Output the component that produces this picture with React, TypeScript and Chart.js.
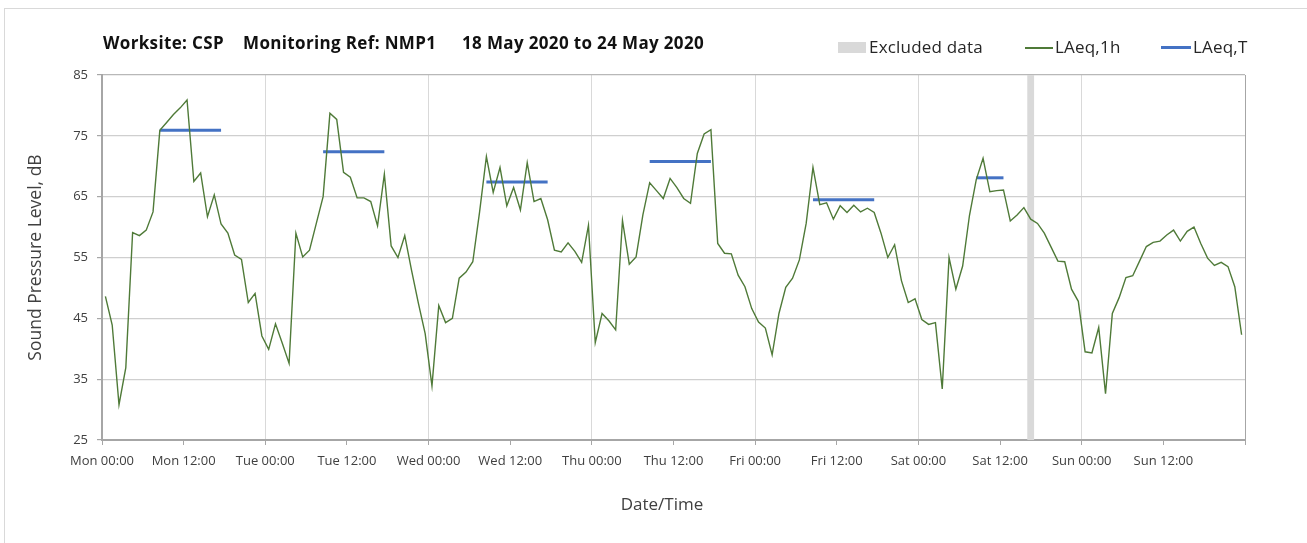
import React, { useEffect, useRef } from 'react';
import { Chart, registerables } from 'chart.js';

Chart.register(...registerables);

// ---- Data ----
// Hourly LAeq,1h values, Mon 00:00 .. Sun 23:00 (plotted at the middle of each hour)
const laeq1hValues: number[] = [
  48.6, 43.9, 30.8, 36.9, 59.1, 58.6, 59.5, 62.5, 75.9, 77.2, 78.5, 79.6,
  80.9, 67.5, 68.9, 61.7, 65.3, 60.5, 59.0, 55.4, 54.7, 47.6, 49.1, 42.1,
  39.9, 44.1, 40.9, 37.6, 59.0, 55.1, 56.2, 60.6, 65.0, 78.7, 77.7, 69.0,
  68.2, 64.8, 64.8, 64.2, 60.2, 68.7, 56.9, 55.0, 58.6, 52.9, 47.5, 42.5,
  33.9, 47.1, 44.3, 45.0, 51.6, 52.6, 54.3, 62.5, 71.6, 65.7, 69.8, 63.5,
  66.5, 62.8, 70.6, 64.2, 64.7, 61.2, 56.2, 55.9, 57.4, 56.0, 54.2, 60.3,
  41.0, 45.8, 44.6, 43.1, 61.1, 53.9, 55.1, 62.0, 67.3, 66.0, 64.7, 68.0,
  66.5, 64.7, 63.9, 72.1, 75.3, 76.0, 57.3, 55.7, 55.6, 52.1, 50.2, 46.6,
  44.4, 43.4, 39.0, 45.8, 50.1, 51.6, 54.6, 60.6, 69.8, 63.7, 64.0, 61.3,
  63.5, 62.4, 63.6, 62.5, 63.1, 62.4, 59.0, 55.0, 57.1, 51.2, 47.6, 48.2,
  44.8, 44.0, 44.3, 33.4, 55.0, 49.8, 53.6, 61.9, 67.8, 71.3, 65.8, 66.0,
  66.1, 61.0, 62.0, 63.2, 61.3, 60.6, 59.0, 56.7, 54.4, 54.3, 49.8, 47.8,
  39.5, 39.3, 43.5, 32.6, 45.8, 48.4, 51.7, 52.0, 54.4, 56.8, 57.5, 57.7,
  58.7, 59.5, 57.7, 59.3, 60.0, 57.3, 54.9, 53.7, 54.2, 53.5, 50.2, 42.3,
];

// LAeq,T daytime periods (hours from Mon 00:00, point centres)
const laeqTStart: number[] = [8.5, 32.5, 56.5, 80.5, 104.5, 128.5];
const laeqTEnd: number[] = [17.5, 41.5, 65.5, 89.5, 113.5, 132.5];
const laeqTValues: number[] = [75.9, 72.4, 67.4, 70.8, 64.5, 68.1];

// Excluded data window (hours from Mon 00:00)
const excludedStart = 136;
const excludedEnd = 137;

const xTickLabels: string[] = [
  'Mon 00:00', 'Mon 12:00', 'Tue 00:00', 'Tue 12:00', 'Wed 00:00', 'Wed 12:00',
  'Thu 00:00', 'Thu 12:00', 'Fri 00:00', 'Fri 12:00', 'Sat 00:00', 'Sat 12:00',
  'Sun 00:00', 'Sun 12:00',
];

const titleParts: string[] = ['Worksite: CSP', 'Monitoring Ref: NMP1', '18 May 2020 to 24 May 2020'];

const FONT = "'Open Sans', Lato, sans-serif";
const GREEN = '#4f7a38';
const BLUE = '#4472c4';
const EXCL = '#d9d9d9';

const excludedBand = {
  id: 'excludedBand',
  beforeDatasetsDraw(chart: any) {
    const { ctx, chartArea, scales } = chart;
    const x = scales.x;
    const x1 = x.getPixelForValue(excludedStart);
    const x2 = x.getPixelForValue(excludedEnd);
    ctx.save();
    ctx.fillStyle = EXCL;
    ctx.fillRect(x1, chartArea.top, x2 - x1, chartArea.bottom - chartArea.top);
    ctx.restore();
  },
};

export default function App() {
  const canvasRef = useRef<HTMLCanvasElement | null>(null);

  useEffect(() => {
    document.body.style.margin = '0';
    const canvas = canvasRef.current;
    if (!canvas) return;

    const datasets: any[] = [
      {
        label: 'LAeq,1h',
        data: laeq1hValues.map((v, i) => ({ x: i + 0.5, y: v })),
        borderColor: GREEN,
        borderWidth: 1.4,
        pointRadius: 0,
        tension: 0,
        fill: false,
      },
    ];
    laeqTValues.forEach((v, i) => {
      datasets.push({
        label: 'LAeq,T',
        data: [
          { x: laeqTStart[i], y: v },
          { x: laeqTEnd[i], y: v },
        ],
        borderColor: BLUE,
        borderWidth: 3,
        pointRadius: 0,
        fill: false,
      });
    });

    const chart = new Chart(canvas, {
      type: 'line',
      data: { datasets },
      plugins: [excludedBand],
      options: {
        animation: false,
        responsive: false,
        maintainAspectRatio: false,
        layout: { padding: { top: 75, right: 62, left: 0, bottom: 0 } },
        plugins: {
          legend: { display: false },
          tooltip: { enabled: false },
          title: { display: false },
        },
        scales: {
          x: {
            type: 'linear',
            min: 0,
            max: 168,
            afterFit: (s: any) => { s.height = 103; },
            afterBuildTicks: (s: any) => {
              const t: any[] = [];
              for (let i = 0; i <= xTickLabels.length; i++) t.push({ value: i * 12 });
              s.ticks = t;
            },
            ticks: {
              autoSkip: false,
              maxRotation: 0,
              padding: 8,
              color: '#404040',
              font: { family: FONT, size: 13 },
              callback: (value: any) => {
                const idx = Math.round(Number(value) / 12);
                return xTickLabels[idx] ?? '';
              },
            },
            grid: {
              color: (ctx: any) => {
                const v = ctx.tick ? ctx.tick.value : 0;
                if (v === 168) return '#a6a6a6';
                return v % 24 === 0 ? '#d9d9d9' : 'rgba(0,0,0,0)';
              },
              tickColor: '#a6a6a6',
              tickLength: 5,
              lineWidth: 1,
            },
            border: { color: '#a6a6a6', width: 2 },
            title: { display: false },
          },
          y: {
            type: 'linear',
            min: 25,
            max: 85,
            afterFit: (s: any) => { s.width = 102; },
            ticks: {
              stepSize: 10,
              padding: 9,
              color: '#404040',
              font: { family: FONT, size: 13 },
            },
            grid: {
              color: (ctx: any) => (ctx.tick && ctx.tick.value === 85 ? '#b8b8b8' : '#cfcfcf'),
              tickColor: '#a6a6a6',
              tickLength: 5,
              lineWidth: 1.2,
            },
            border: { color: '#a6a6a6', width: 2 },
            title: {
              display: true,
              text: 'Sound Pressure Level, dB',
              color: '#404040',
              font: { family: FONT, size: 17.5 },
              padding: { top: 26, bottom: 0 },
            },
          },
        },
      },
    });

    return () => chart.destroy();
  }, []);

  const legendText: React.CSSProperties = {
    position: 'absolute',
    top: 35,
    fontFamily: FONT,
    fontSize: 17,
    letterSpacing: '0.2px',
    color: '#262626',
    lineHeight: '24px',
    whiteSpace: 'nowrap',
  };
  const titleText: React.CSSProperties = {
    position: 'absolute',
    top: 32,
    fontFamily: FONT,
    fontSize: 17,
    letterSpacing: '0.35px',
    fontWeight: 700,
    color: '#111',
    lineHeight: '22px',
    whiteSpace: 'nowrap',
  };

  return (
    <div style={{ position: 'fixed', left: 0, top: 0, width: 1307, height: 543, overflow: 'hidden', background: '#fff' }}>
      <div
        style={{
          position: 'absolute',
          left: 4,
          top: 8,
          width: 1400,
          height: 600,
          borderLeft: '1px solid #d9d9d9',
          borderTop: '1px solid #d9d9d9',
        }}
      />
      <canvas ref={canvasRef} width={1307} height={543} style={{ position: 'absolute', left: 0, top: 0, width: 1307, height: 543 }} />
      <div style={{ ...titleText, left: 103 }}>{titleParts[0]}</div>
      <div style={{ ...titleText, left: 243 }}>{titleParts[1]}</div>
      <div style={{ ...titleText, left: 462 }}>{titleParts[2]}</div>

      <div style={{ position: 'absolute', left: 838, top: 42, width: 28, height: 11, background: EXCL }} />
      <div style={{ ...legendText, left: 869 }}>Excluded data</div>
      <div style={{ position: 'absolute', left: 1025, top: 47, width: 28, height: 2, background: GREEN }} />
      <div style={{ ...legendText, left: 1055 }}>LAeq,1h</div>
      <div style={{ position: 'absolute', left: 1161, top: 46, width: 30, height: 3, background: BLUE }} />
      <div style={{ ...legendText, left: 1193 }}>LAeq,T</div>

      <div
        style={{
          position: 'absolute',
          left: 562,
          width: 200,
          top: 492,
          textAlign: 'center',
          fontFamily: FONT,
          fontSize: 17,
          lineHeight: '24px',
          color: '#404040',
        }}
      >
        Date/Time
      </div>
    </div>
  );
}
